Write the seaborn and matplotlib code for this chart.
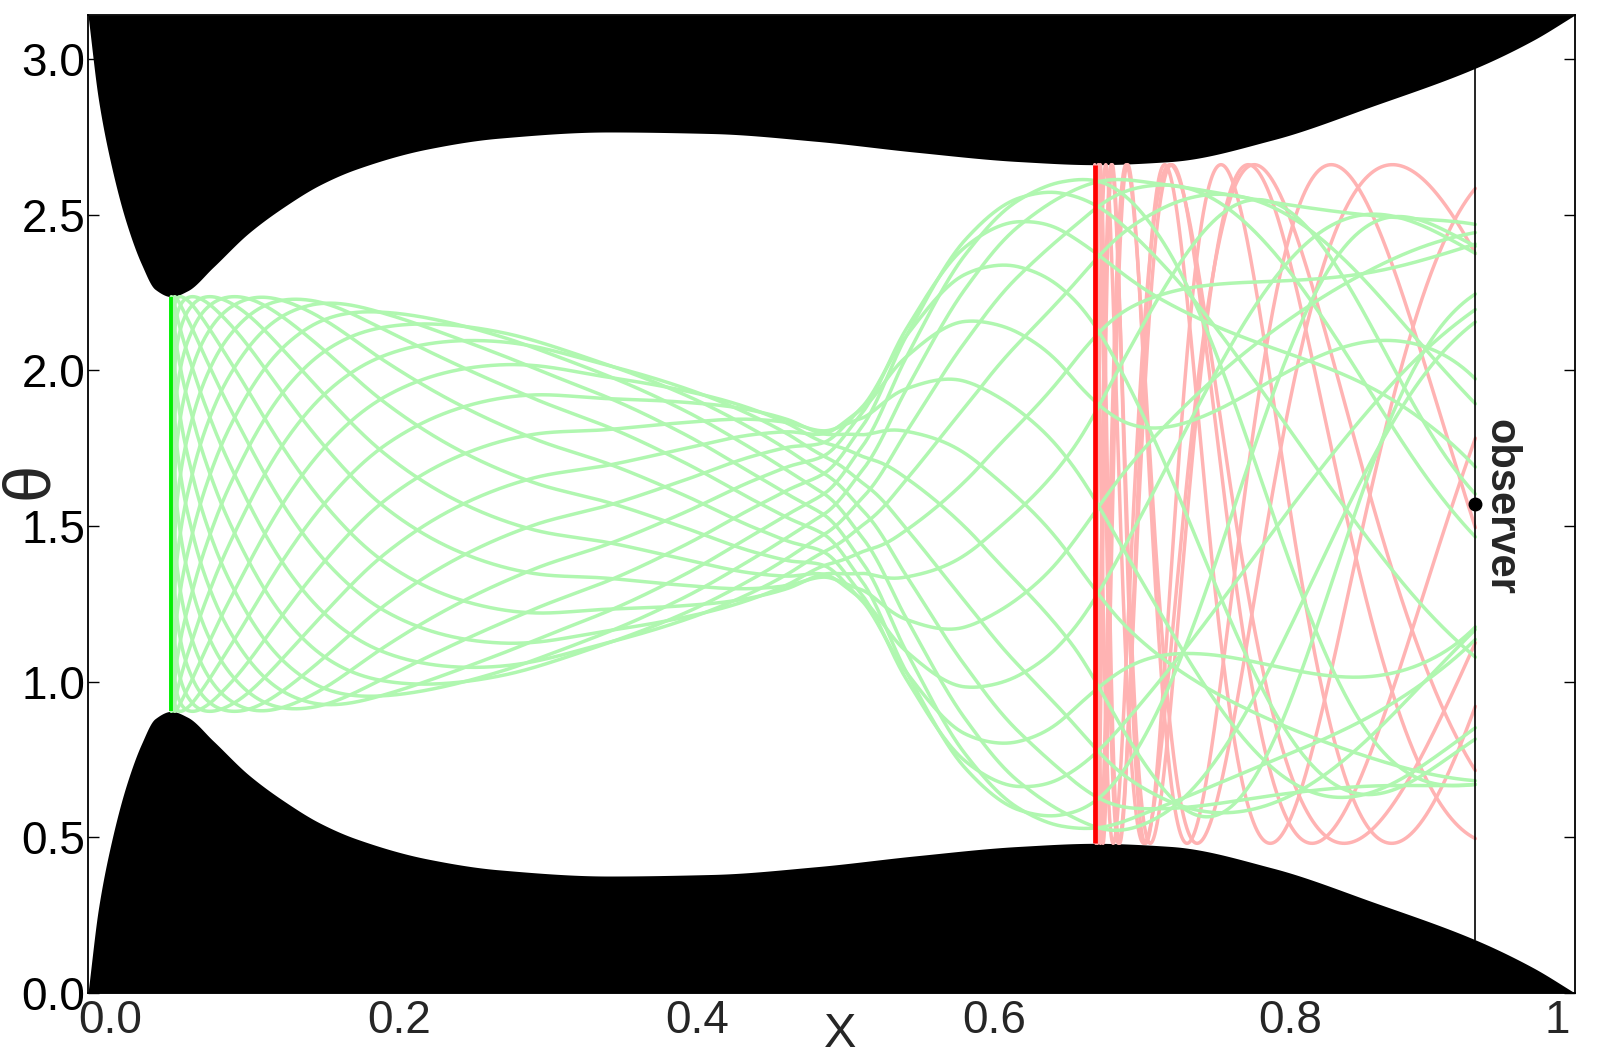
import numpy as np
import pandas as pd
import matplotlib
matplotlib.use("Agg")
import matplotlib.pyplot as plt
import seaborn as sns

# ---------------- values ----------------
# half-width of the white channel around theta = pi/2 (outside is black)
wall_x = [0.000, 0.007, 0.016, 0.026, 0.036, 0.045, 0.056, 0.067, 0.084, 0.108,
          0.132, 0.156, 0.180, 0.228, 0.276, 0.350, 0.420, 0.490, 0.557, 0.626,
          0.677, 0.728, 0.797, 0.865, 0.933, 0.972, 1.000]
wall_w = [1.571, 1.300, 1.080, 0.900, 0.770, 0.690, 0.666, 0.685, 0.760, 0.870,
          0.955, 1.025, 1.075, 1.140, 1.175, 1.195, 1.190, 1.165, 1.130, 1.100,
          1.090, 1.100, 1.170, 1.280, 1.400, 1.490, 1.571]

x_green = 0.056      # green source line
x_red = 0.677        # red source line
x_obs = 0.933        # observer line
theta_obs = 1.571    # observer position

# green bundle: envelope half-width and phase along x
genv_x = [0.056, 0.100, 0.150, 0.200, 0.280, 0.350, 0.420, 0.470, 0.495, 0.520,
          0.550, 0.590, 0.626, 0.655, 0.685, 0.720, 0.800, 0.870, 0.935]
genv_r = [0.666, 0.666, 0.655, 0.620, 0.550, 0.450, 0.345, 0.272, 0.235, 0.310,
          0.560, 0.850, 0.990, 1.035, 1.050, 1.030, 0.970, 0.930, 0.900]
gphase_x = [0.056, 0.060, 0.070, 0.085, 0.100, 0.130, 0.160, 0.200, 0.250, 0.300,
            0.350, 0.400, 0.450, 0.470, 0.495, 0.520, 0.550, 0.600, 0.650, 0.700,
            0.750, 0.800, 0.850, 0.900, 0.935]
gphase_v = [0.00, 0.45, 0.85, 1.20, 1.45, 1.85, 2.15, 2.45, 2.70, 2.87,
            2.99, 3.20, 3.55, 3.73, 4.00, 4.48, 4.85, 5.14, 5.38, 5.70,
            6.00, 6.30, 6.60, 6.90, 7.10]
green_start_phase = [0.00, 0.29, 0.57, 0.86, 1.14, 1.43, 1.71, 2.00, 2.28, 2.57,
                     2.86, 3.14, 3.43, 3.71, 4.00, 4.28, 4.57, 4.85, 5.14, 5.43,
                     5.71, 6.00]
# extra phase picked up by each green ray between the second neck and the observer
green_late_shift = [0.4, -0.9, 1.3, -0.2, 0.8, -1.4, 0.1, 1.6, -0.6, 0.9,
                    -1.1, 0.3, 1.9, -0.4, 0.7, -1.7, 1.2, -0.8, 0.2, 1.5,
                    -1.3, 0.6]

# red rays: amplitude, log-chirp rates and start phases
red_amp = 1.09
red_scale = 0.006
red_rate = [2.80, 2.95, 3.10, 3.25, 3.40, 3.55, 3.70, 3.85]
red_start_phase = [0.0, 3.9, 1.6, 5.2, 2.7, 0.8, 4.5, 2.1]

xtick_vals = [0.0, 0.2, 0.4, 0.6, 0.8, 1.0]
xtick_text = ["0.0", "0.2", "0.4", "0.6", "0.8", "1"]
xtick_shift_px = [22, 14, 14, 14, 13, -18]
ytick_vals = [0.0, 0.5, 1.0, 1.5, 2.0, 2.5, 3.0]
ytick_text = ["0.0", "0.5", "1.0", "1.5", "2.0", "2.5", "3.0"]

# colours
c_wall = "black"
c_green_ray = "#b0f7b0"
c_red_ray = "#ffb3b3"
c_green_src = "#00ee00"
c_red_src = "#ff0000"


def pchip(xk, yk, x):
    xk = np.asarray(xk, float)
    yk = np.asarray(yk, float)
    h = np.diff(xk)
    d = np.diff(yk) / h
    m = np.zeros_like(yk)
    for i in range(1, len(xk) - 1):
        if d[i - 1] * d[i] > 0:
            w1 = 2 * h[i] + h[i - 1]
            w2 = h[i] + 2 * h[i - 1]
            m[i] = (w1 + w2) / (w1 / d[i - 1] + w2 / d[i])
    m[0] = d[0]
    m[-1] = d[-1]
    idx = np.clip(np.searchsorted(xk, x) - 1, 0, len(h) - 1)
    t = (x - xk[idx]) / h[idx]
    h00 = 2 * t**3 - 3 * t**2 + 1
    h10 = t**3 - 2 * t**2 + t
    h01 = -2 * t**3 + 3 * t**2
    h11 = t**3 - t**2
    return (h00 * yk[idx] + h10 * h[idx] * m[idx]
            + h01 * yk[idx + 1] + h11 * h[idx] * m[idx + 1])


sns.set_theme(style="white")
plt.rcParams["font.family"] = ["Liberation Sans", "DejaVu Sans"]

W, H = 1597, 1055
fig = plt.figure(figsize=(W / 100, H / 100), dpi=100)
ax_l, ax_r, ax_t, ax_b = 88, 1575, 15, 993
ax = fig.add_axes([ax_l / W, 1 - ax_b / H, (ax_r - ax_l) / W, (ax_b - ax_t) / H])
ax.set_xlim(0, 1)
ax.set_ylim(0, np.pi)

# forbidden regions
xx = np.linspace(0, 1, 2000)
ww = pchip(wall_x, wall_w, xx)
ax.fill_between(xx, np.pi / 2 + ww, np.pi, color=c_wall, lw=0, zorder=1)
ax.fill_between(xx, 0, np.pi / 2 - ww, color=c_wall, lw=0, zorder=1)

# red rays
xr = x_red + (x_obs - x_red) * np.linspace(0, 1, 4000) ** 2.5
lr = np.log1p((xr - x_red) / red_scale)
rows = []
for j, (rate, ph) in enumerate(zip(red_rate, red_start_phase)):
    th = np.pi / 2 + red_amp * np.cos(ph + rate * lr)
    rows.append(pd.DataFrame({"x": xr, "theta": th, "ray": j}))
df_red = pd.concat(rows, ignore_index=True)

# green rays
xg = x_green + (x_obs - x_green) * np.linspace(0, 1, 3000) ** 1.5
R = pchip(genv_x, genv_r, xg)
P = pchip(gphase_x, gphase_v, xg)
late = np.clip((xg - 0.66) / (x_obs - 0.66), 0, 1)
late = late * late * (3 - 2 * late)
rows = []
for i, (ph, sh) in enumerate(zip(green_start_phase, green_late_shift)):
    th = np.pi / 2 + R * np.cos(P + sh * late - ph)
    rows.append(pd.DataFrame({"x": xg, "theta": th, "ray": i}))
df_green = pd.concat(rows, ignore_index=True)

sns.lineplot(data=df_red, x="x", y="theta", units="ray", estimator=None,
             sort=False, color=c_red_ray, linewidth=2.5, ax=ax, legend=False,
             zorder=2)
sns.lineplot(data=df_green, x="x", y="theta", units="ray", estimator=None,
             sort=False, color=c_green_ray, linewidth=2.5, ax=ax, legend=False,
             zorder=3)

# source lines and observer
w_g = pchip(wall_x, wall_w, np.array([x_green]))[0]
w_r = pchip(wall_x, wall_w, np.array([x_red]))[0]
w_o = pchip(wall_x, wall_w, np.array([x_obs]))[0]
ax.plot([x_green, x_green], [np.pi / 2 - w_g, np.pi / 2 + w_g],
        color=c_green_src, lw=2.8, zorder=4, solid_capstyle="butt")
ax.plot([x_red, x_red], [np.pi / 2 - w_r, np.pi / 2 + w_r],
        color=c_red_src, lw=3.4, zorder=4, solid_capstyle="butt")
ax.plot([x_obs, x_obs], [np.pi / 2 - w_o, np.pi / 2 + w_o],
        color="black", lw=1.2, zorder=4)
ax.plot([x_obs], [theta_obs], marker="o", ms=9, color="black", zorder=5)
ax.text(0.950, 1.56, "observer", rotation=-90, ha="center", va="center",
        fontsize=30, fontweight="bold", zorder=6)

# axes styling
axw = ax_r - ax_l
ax.set_xticks([v + s / axw for v, s in zip(xtick_vals, xtick_shift_px)])
ax.set_xticklabels(xtick_text)
ax.set_yticks(ytick_vals)
ax.set_yticklabels(ytick_text)
ax.tick_params(axis="x", length=0, pad=4, labelsize=33)
ax.tick_params(axis="y", direction="in", length=8, width=1, pad=2,
               labelsize=33, right=True, left=True, colors="black")
for sp in ax.spines.values():
    sp.set_visible(True)
    sp.set_color("black")
    sp.set_linewidth(1.3)
ax.set_xlabel("X", fontsize=35)
ax.xaxis.set_label_coords((840 - ax_l) / axw, (ax_b - 1012) / (ax_b - ax_t))
ax.set_ylabel("θ", fontsize=48)
ax.yaxis.label.set(ha="center", va="center", rotation_mode="anchor")
ax.yaxis.set_label_coords((30 - ax_l) / axw, (ax_b - 480) / (ax_b - ax_t))
ax.grid(False)

fig.savefig("out.png", dpi=100)
